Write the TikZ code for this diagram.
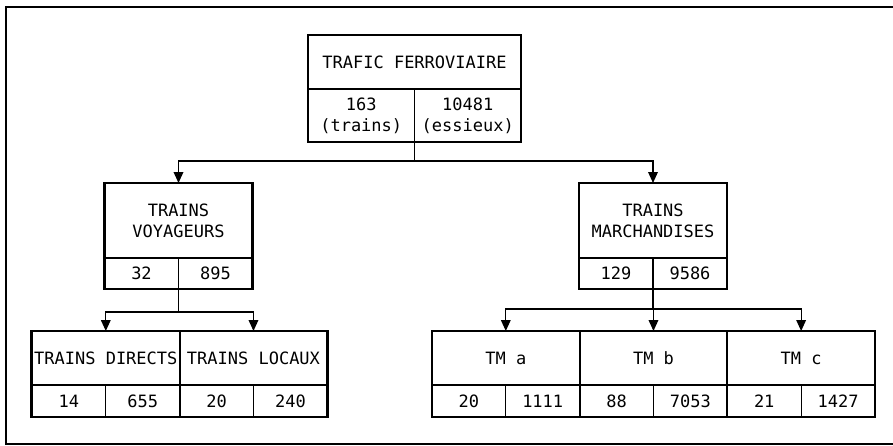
\documentclass[tikz,border=0pt]{standalone}
\usepackage{fontspec}
\newfontfamily\plotfont{DejaVu Sans Mono}
\usetikzlibrary{arrows.meta,positioning}

\begin{document}
\begin{tikzpicture}[x=0.03cm, y=-0.03cm,
    every node/.style={font=\plotfont\fontsize{14.5}{18}\selectfont, align=center, inner sep=1pt, outer sep=0pt},
    cell/.style={draw, line width=1.1pt},
    bigtitle/.style={cell, minimum width=6.39cm, minimum height=1.62cm},
    bigval/.style={cell, minimum width=3.195cm, minimum height=1.59cm},
    midtitle/.style={cell, minimum width=4.44cm, minimum height=2.25cm},
    midval/.style={cell, minimum width=2.22cm, minimum height=0.93cm},
    subtitle/.style={cell, minimum width=4.43cm, minimum height=1.62cm},
    subval/.style={cell, minimum width=2.215cm, minimum height=0.96cm},
    boxframe/.style={line width=2.5pt},
    split/.style={line width=1.7pt},
    link/.style={line width=1.1pt},
    arr/.style={link, -{Triangle[width=0.29cm,length=0.33cm]}}]

    \useasboundingbox (0,0) rectangle (893,445);
    \draw[line width=1.4pt] (893,7) -- (6,7) -- (6,444) -- (893,444);

    % top box
    \node[bigtitle] (tf) at (414.5,62) {TRAFIC FERROVIAIRE};
        \node[bigval, anchor=north west] (tf1) at (tf.south west) {163\\(trains)};
        \node[bigval, anchor=north east] (tf2) at (tf.south east) {10481\\(essieux)};
    \draw[boxframe] (tf.north west) rectangle (tf2.south east);

    % voyageurs
    \node[midtitle] (tv) at (178.5,220.5) {TRAINS\\VOYAGEURS};
        \node[midval, anchor=north west] (tv1) at (tv.south west) {32};
        \node[midval, anchor=north east] (tv2) at (tv.south east) {895};
    \draw[boxframe] (tv.north west) rectangle (tv2.south east);

    % marchandises
    \node[midtitle] (tm) at (653,220.5) {TRAINS\\MARCHANDISES};
        \node[midval, anchor=north west] (tm1) at (tm.south west) {129};
        \node[midval, anchor=north east] (tm2) at (tm.south east) {9586};
    \draw[boxframe] (tm.north west) rectangle (tm2.south east);

    % directs / locaux
    \node[subtitle] (td) at (105.8,358) {TRAINS DIRECTS};
        \node[subval, anchor=north west] (td1) at (td.south west) {14};
        \node[subval, anchor=north east] (td2) at (td.south east) {655};
    \node[subtitle, right=0pt of td] (tl) {TRAINS LOCAUX};
        \node[subval, anchor=north west] (tl1) at (tl.south west) {20};
        \node[subval, anchor=north east] (tl2) at (tl.south east) {240};
    \draw[split] (tl.north west) -- (tl1.south west);
    \draw[boxframe] (td.north west) rectangle (tl2.south east);

    % TM a, b, c
    \node[subtitle] (tma) at (505.8,358) {TM a};
        \node[subval, anchor=north west] (tma1) at (tma.south west) {20};
        \node[subval, anchor=north east] (tma2) at (tma.south east) {1111};
    \node[subtitle, right=0pt of tma] (tmb) {TM b};
        \node[subval, anchor=north west] (tmb1) at (tmb.south west) {88};
        \node[subval, anchor=north east] (tmb2) at (tmb.south east) {7053};
    \node[subtitle, right=0pt of tmb] (tmc) {TM c};
        \node[subval, anchor=north west] (tmc1) at (tmc.south west) {21};
        \node[subval, anchor=north east] (tmc2) at (tmc.south east) {1427};
    \draw[split] (tmb.north west) -- (tmb1.south west);
    \draw[split] (tmc.north west) -- (tmc1.south west);
    \draw[boxframe] (tma.north west) rectangle (tmc2.south east);

    % connectors
    \draw[link] (tf1.south east) -- ++(0,19) coordinate (j0);
    \draw[arr] (j0) -| (tv.north);
    \draw[arr] (j0) -| (tm.north);

    \draw[link] (tv1.south east) -- ++(0,23) coordinate (j1);
    \draw[arr] (j1) -| (td.north);
    \draw[arr] (j1) -| (tl.north);

    \draw[link] (tm1.south east) -- ++(0,20) coordinate (j2);
    \draw[arr] (j2) -| (tma.north);
    \draw[arr] (j2) -| (tmb.north);
    \draw[arr] (j2) -| (tmc.north);
\end{tikzpicture}
\end{document}
